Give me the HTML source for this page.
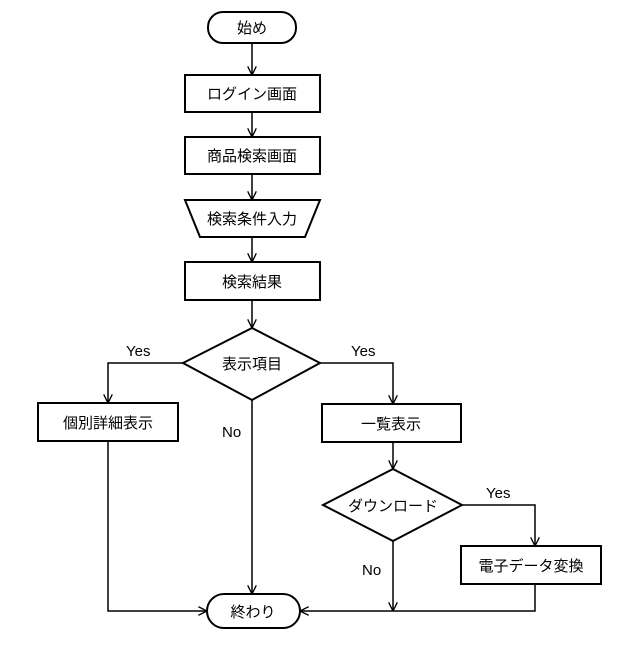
<!DOCTYPE html>
<html><head><meta charset="utf-8"><style>
body{margin:0;background:#fff;}
text{font-family:"Liberation Sans","Noto Sans CJK JP",sans-serif;font-size:15px;fill:#000;}
</style></head><body>
<svg width="640" height="640" viewBox="0 0 640 640" xmlns="http://www.w3.org/2000/svg">
<defs><marker id="a" viewBox="0 0 10 10" refX="10" refY="5" markerWidth="9" markerHeight="9" orient="auto" markerUnits="userSpaceOnUse"><path d="M0,0 L10,5 L0,10" fill="none" stroke="#000" stroke-width="1.5"/></marker></defs>
<g fill="none" stroke="#000" stroke-width="2">
<rect x="208" y="12" width="88" height="31" rx="15"/>
<rect x="185" y="75" width="135" height="37"/>
<rect x="185" y="137" width="135" height="37"/>
<polygon points="185,200 320,200 305,237 200,237"/>
<rect x="185" y="262" width="135" height="38"/>
<polygon points="252,328 320,363 252,400 183,363"/>
<rect x="38" y="403" width="140" height="38"/>
<rect x="322" y="404" width="139" height="38"/>
<polygon points="393,469 462,505 393,541 323,505"/>
<rect x="461" y="546" width="140" height="38"/>
<rect x="207" y="594" width="93" height="34" rx="17"/>
</g>
<g fill="none" stroke="#000" stroke-width="1.5">
<line x1="252" y1="43" x2="252" y2="75" marker-end="url(#a)"/>
<line x1="252" y1="112" x2="252" y2="137" marker-end="url(#a)"/>
<line x1="252" y1="174" x2="252" y2="200" marker-end="url(#a)"/>
<line x1="252" y1="237" x2="252" y2="262" marker-end="url(#a)"/>
<line x1="252" y1="300" x2="252" y2="328" marker-end="url(#a)"/>
<polyline points="183,363 108,363 108,403" marker-end="url(#a)"/>
<polyline points="320,363 393,363 393,404" marker-end="url(#a)"/>
<line x1="252" y1="400" x2="252" y2="594" marker-end="url(#a)"/>
<polyline points="108,441 108,611 207,611" marker-end="url(#a)"/>
<line x1="393" y1="442" x2="393" y2="469" marker-end="url(#a)"/>
<polyline points="462,505 535,505 535,546" marker-end="url(#a)"/>
<line x1="393" y1="541" x2="393" y2="611" marker-end="url(#a)"/>
<polyline points="535,584 535,611 300,611" marker-end="url(#a)"/>
</g>
<g text-anchor="middle">
<text x="252" y="33">始め</text>
<text x="252" y="99">ログイン画面</text>
<text x="252" y="161">商品検索画面</text>
<text x="252" y="224">検索条件入力</text>
<text x="252" y="287">検索結果</text>
<text x="252" y="369">表示項目</text>
<text x="108" y="428">個別詳細表示</text>
<text x="391" y="429">一覧表示</text>
<text x="393" y="511">ダウンロード</text>
<text x="531" y="571">電子データ変換</text>
<text x="253" y="617">終わり</text>
</g>
<g style="font-size:13px">
<text x="126" y="356">Yes</text>
<text x="351" y="356">Yes</text>
<text x="222" y="437">No</text>
<text x="486" y="498">Yes</text>
<text x="362" y="575">No</text>
</g>
</svg>
</body></html>
